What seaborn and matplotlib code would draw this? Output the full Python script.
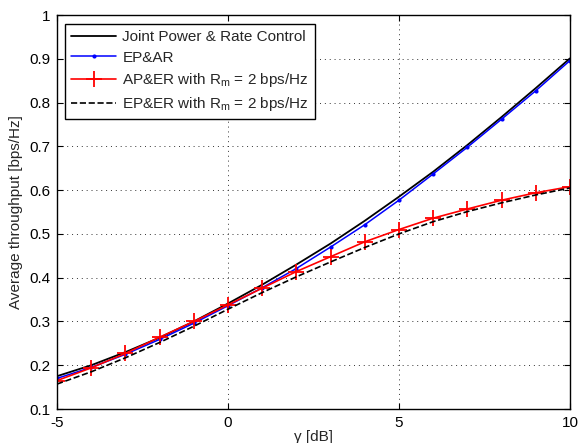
import matplotlib
matplotlib.use("Agg")
import matplotlib.pyplot as plt
import seaborn as sns
import pandas as pd

snr_db = [-5, -4, -3, -2, -1, 0, 1, 2, 3, 4, 5, 6, 7, 8, 9, 10]
joint = [0.175, 0.200, 0.230, 0.263, 0.300, 0.341, 0.384, 0.430, 0.478, 0.530,
         0.585, 0.642, 0.703, 0.767, 0.833, 0.901]
ep_ar = [0.170, 0.195, 0.225, 0.259, 0.296, 0.336, 0.377, 0.421, 0.470, 0.521,
         0.577, 0.637, 0.698, 0.762, 0.827, 0.896]
ap_er = [0.165, 0.194, 0.227, 0.264, 0.300, 0.338, 0.376, 0.414, 0.448, 0.482,
         0.510, 0.536, 0.557, 0.577, 0.594, 0.608]
ep_er = [0.157, 0.185, 0.217, 0.252, 0.289, 0.328, 0.366, 0.402, 0.436, 0.469,
         0.500, 0.528, 0.551, 0.571, 0.589, 0.605]

labels = ["Joint Power & Rate Control", "EP&AR",
          "AP&ER with R$_{m}$ = 2 bps/Hz", "EP&ER with R$_{m}$ = 2 bps/Hz"]
x_ticks = [-5, 0, 5, 10]
y_ticks = [0.1, 0.2, 0.3, 0.4, 0.5, 0.6, 0.7, 0.8, 0.9, 1.0]

sns.set_style("ticks")
plt.rcParams["font.family"] = ["Liberation Sans", "DejaVu Sans"]
plt.rcParams["mathtext.default"] = "regular"

df = pd.DataFrame({"x": snr_db, "joint": joint, "ep_ar": ep_ar,
                   "ap_er": ap_er, "ep_er": ep_er})

fig = plt.figure(figsize=(5.78, 4.43), dpi=100)
ax = fig.add_axes([0.0986, 0.0767, 0.8874, 0.8893])

sns.lineplot(data=df, x="x", y="joint", ax=ax, color="black", lw=1.3, label=labels[0])
sns.lineplot(data=df, x="x", y="ep_ar", ax=ax, color="blue", lw=1.1, marker="o",
             markersize=3, markeredgewidth=0, markerfacecolor="blue",
             markeredgecolor="blue", label=labels[1])
sns.lineplot(data=df, x="x", y="ap_er", ax=ax, color="red", lw=1.2, marker="+",
             markersize=11, markeredgewidth=1.3, markeredgecolor="red",
             markerfacecolor="red", label=labels[2])
sns.lineplot(data=df, x="x", y="ep_er", ax=ax, color="black", lw=1.2, ls="--",
             label=labels[3])

ax.set_xlim(-5, 10)
ax.set_ylim(0.1, 1.0)
ax.set_xticks(x_ticks)
ax.set_xticklabels([str(t) for t in x_ticks])
ax.set_yticks(y_ticks)
ax.set_yticklabels(["0.1", "0.2", "0.3", "0.4", "0.5", "0.6", "0.7", "0.8", "0.9", "1"])
ax.grid(True, ls=(0, (1, 4)), color="#333333", lw=0.7)
ax.tick_params(direction="in", top=True, right=True, labelsize=11, length=4,
               width=0.8, colors="black", pad=5)
for s in ax.spines.values():
    s.set_visible(True)
    s.set_color("black")
    s.set_linewidth(1.0)

ax.set_xlabel("γ [dB]", fontsize=11)
ax.xaxis.set_label_coords(0.5, -0.052)
ax.xaxis.label.set_va("top")
ax.set_ylabel("Average throughput [bps/Hz]", fontsize=11)

leg = ax.legend(loc="upper left", bbox_to_anchor=(0.01, 0.985), fontsize=11,
                handlelength=2.95, handletextpad=0.4, labelspacing=0.42,
                numpoints=1, frameon=True, fancybox=False, borderpad=0.4,
                borderaxespad=0.2)
leg.get_frame().set_edgecolor("black")
leg.get_frame().set_linewidth(1.0)
leg.get_frame().set_alpha(1.0)

fig.savefig("out.png", dpi=100)
